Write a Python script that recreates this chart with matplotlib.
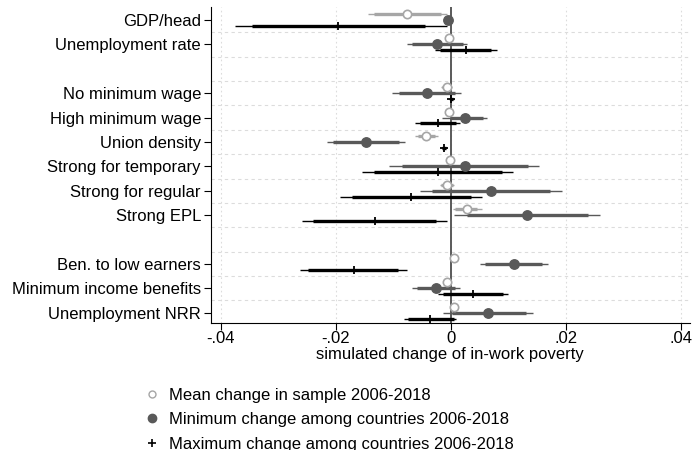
import matplotlib
matplotlib.use("Agg")
import matplotlib.pyplot as plt
from matplotlib.lines import Line2D
import numpy as np

plt.rcParams['font.family'] = ['Liberation Sans', 'DejaVu Sans']

# categories (None = empty gap row)
rows = ["GDP/head", "Unemployment rate", None,
        "No minimum wage", "High minimum wage", "Union density",
        "Strong for temporary", "Strong for regular", "Strong EPL", None,
        "Ben. to low earners", "Minimum income benefits", "Unemployment NRR"]

# mean change in sample 2006-2018: estimate, 95% ci, 90% ci
mean_b    = [-0.0076, -0.0004, -0.0007, -0.0004, -0.0043, -0.0002, -0.0007, 0.0028, 0.0006, -0.0006, 0.0006]
mean_lo95 = [-0.0144, -0.0007, -0.0017, -0.0007, -0.0062, -0.0007, -0.0019, 0.0003, 0.0004, -0.0012, 0.0002]
mean_hi95 = [-0.0007, -0.0001, 0.0002, -0.0001, -0.0023, 0.0003, 0.0005, 0.0054, 0.0008, 0.0001, 0.0010]
mean_lo90 = [-0.0133, -0.0006, -0.0015, -0.0006, -0.0057, -0.0006, -0.0017, 0.0007, 0.0004, -0.0011, 0.0003]
mean_hi90 = [-0.0017, -0.0002, 0.0000, -0.0002, -0.0028, 0.0002, 0.0003, 0.0046, 0.0008, 0.0000, 0.0009]

# minimum change among countries 2006-2018
min_b    = [-0.0005, -0.0024, -0.0042, 0.0024, -0.0147, 0.0024, 0.0070, 0.0132, 0.0109, -0.0026, 0.0064]
min_lo95 = [-0.0008, -0.0077, -0.0102, -0.0015, -0.0216, -0.0107, -0.0053, 0.0006, 0.0050, -0.0067, -0.0014]
min_hi95 = [-0.0002, 0.0028, 0.0017, 0.0063, -0.0080, 0.0154, 0.0193, 0.0260, 0.0169, 0.0016, 0.0143]
min_lo90 = [-0.0007, -0.0068, -0.0091, -0.0002, -0.0204, -0.0085, -0.0033, 0.0028, 0.0060, -0.0059, 0.0002]
min_hi90 = [-0.0003, 0.0021, 0.0008, 0.0056, -0.0091, 0.0134, 0.0173, 0.0239, 0.0158, 0.0008, 0.0131]

# maximum change among countries 2006-2018
max_b    = [-0.0196, 0.0026, 0.0001, -0.0023, -0.0012, -0.0023, -0.0069, -0.0132, -0.0169, 0.0038, -0.0036]
max_lo95 = [-0.0375, -0.0027, -0.0003, -0.0062, -0.0016, -0.0154, -0.0193, -0.0259, -0.0262, -0.0022, -0.0081]
max_hi95 = [-0.0006, 0.0080, 0.0005, 0.0016, -0.0008, 0.0108, 0.0054, -0.0006, -0.0077, 0.0099, 0.0009]
max_lo90 = [-0.0346, -0.0019, -0.0002, -0.0053, -0.0015, -0.0133, -0.0172, -0.0239, -0.0248, -0.0013, -0.0074]
max_hi90 = [-0.0045, 0.0070, 0.0004, 0.0009, -0.0009, 0.0088, 0.0035, -0.0026, -0.0092, 0.0090, 0.0005]

xticks = [-0.04, -0.02, 0, 0.02, 0.04]
xticklabels = ["-.04", "-.02", "0", ".02", ".04"]

ypos = [i for i, r in enumerate(rows) if r is not None]
ylabels = [r for r in rows if r is not None]

FS = 12

fig = plt.figure(figsize=(6.94, 4.5), dpi=100)
ax = fig.add_axes([210.7/694, 1-322.7/450, (690-210.7)/694, (322.7-7)/450])

# grid
for k in range(len(rows) - 1):
    ax.axhline(k + 0.5, color='#dcdcdc', lw=0.8, ls=(0, (3, 3)), zorder=0)
for xt in xticks:
    ax.axvline(xt, color='#dcdcdc', lw=0.8, ls=(0, (1.5, 2.5)), zorder=0)
ax.axvline(0, color='#5a5a5a', lw=1.4, zorder=1)

series = [
    (mean_b, mean_lo95, mean_hi95, mean_lo90, mean_hi90, -0.24, '#a6a6a6', 'hollow'),
    (min_b, min_lo95, min_hi95, min_lo90, min_hi90, 0.0, '#595959', 'filled'),
    (max_b, max_lo95, max_hi95, max_lo90, max_hi90, 0.24, 'black', 'plus'),
]
for b, lo95, hi95, lo90, hi90, off, col, kind in series:
    y = np.array(ypos) + off
    ax.hlines(y, lo95, hi95, color=col, lw=1.0, zorder=2)
    ax.hlines(y, lo90, hi90, color=col, lw=2.4, zorder=3)
    if kind == 'hollow':
        ax.plot(b, y, 'o', ms=6, mfc='white', mec=col, mew=1.2, ls='none', zorder=4)
    elif kind == 'filled':
        ax.plot(b, y, 'o', ms=6.8, color=col, ls='none', zorder=4)
    else:
        ax.plot(b, y, '+', ms=6, mew=1.3, color=col, ls='none', zorder=4)

ax.set_xlim(-0.04174, 0.04156)
ax.set_ylim(12.41, -0.53)
ax.set_yticks(ypos)
ax.set_yticklabels(ylabels, fontsize=FS)
ax.set_xticks(xticks)
ax.set_xticklabels(xticklabels, fontsize=FS)
ax.tick_params(axis='both', length=5, width=0.8, color='black', pad=2)
ax.tick_params(axis='x', pad=1)
ax.set_xlabel("simulated change of in-work poverty", fontsize=FS, labelpad=1)
ax.spines['top'].set_visible(False)
ax.spines['right'].set_visible(False)

handles = [
    Line2D([], [], marker='o', ls='none', ms=5, mfc='white', mec='#a6a6a6', mew=1),
    Line2D([], [], marker='o', ls='none', ms=6, color='#595959'),
    Line2D([], [], marker='+', ls='none', ms=6, mew=1.2, color='black'),
]
labels = ["Mean change in sample 2006-2018",
          "Minimum change among countries 2006-2018",
          "Maximum change among countries 2006-2018"]
fig.legend(handles, labels, loc='upper left', bbox_to_anchor=(139/694, 1-381/450),
           frameon=False, fontsize=FS, handlelength=0.8, handletextpad=0.6,
           labelspacing=0.57, borderaxespad=0)

fig.savefig("out.png", dpi=100)
